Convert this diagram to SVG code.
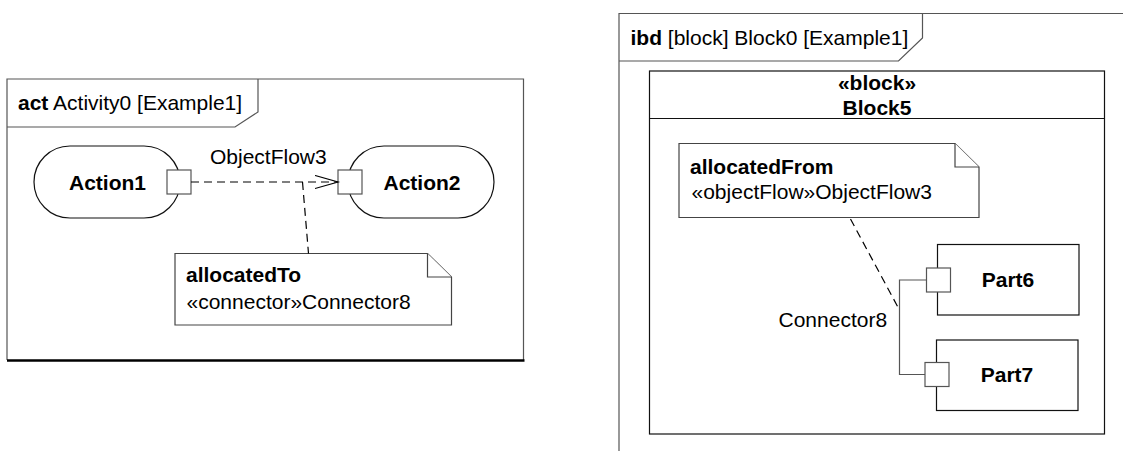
<svg xmlns="http://www.w3.org/2000/svg" width="1123" height="451" viewBox="0 0 1123 451">
<defs>
<style>
text{font-family:"Liberation Sans",Arial,Helvetica,sans-serif;font-size:21px;fill:#000}
.b{font-weight:bold}
.frame{fill:none;stroke:#555;stroke-width:1.2}
.shape{fill:#fff;stroke:#111;stroke-width:1.2}
.note{fill:#fff;stroke:#444;stroke-width:1.2}
.pin{fill:#fff;stroke:#555;stroke-width:1.2}
.dash{fill:none;stroke:#000;stroke-width:1.2;stroke-dasharray:8 5}
.conn{fill:none;stroke:#555;stroke-width:1.2}
</style>
<marker id="open" markerWidth="26" markerHeight="16" refX="23" refY="7" orient="auto" markerUnits="userSpaceOnUse">
<path d="M0,0.5 L23,7 L0,13.5" fill="none" stroke="#000" stroke-width="1.2"/>
</marker>
</defs>
<rect width="1123" height="451" fill="#fff"/>

<g id="frame-act">
<path class="frame" d="M7,360 V79 H523.5 V360"/>
<path class="frame" d="M258,79 V112 L235,127 H7"/>
<line x1="7" y1="360.5" x2="524.5" y2="360.5" stroke="#000" stroke-width="2.6"/>
<text x="18" y="110"><tspan class="b">act</tspan> Activity0 [Example1]</text>
</g>

<g id="action1">
<rect class="shape" x="34" y="146" width="146" height="72" rx="36" ry="36"/>
<text class="b" x="69" y="189.5">Action1</text>
<rect class="pin" x="167" y="170" width="24" height="24"/>
</g>

<g id="action2">
<rect class="shape" x="348" y="146" width="146" height="72" rx="36" ry="36"/>
<text class="b" x="383.5" y="189.5">Action2</text>
<rect class="pin" x="338" y="170" width="24" height="24"/>
</g>

<g id="note-allocatedTo">
<path class="note" d="M175,253.5 H427.5 L451.5,277 V325 H175 Z"/>
<path class="note" d="M427.5,253.5 V277 H451.5"/>
<text class="b" x="186" y="282">allocatedTo</text>
<text x="186.5" y="308.5">«connector»Connector8</text>
</g>

<g id="frame-ibd">
<path class="frame" d="M619,451 V13.5 H1123"/>
<path class="frame" d="M922.5,13.5 V38 L898.5,61 H619"/>
<text x="630.5" y="44.5"><tspan class="b">ibd</tspan> [block] Block0 [Example1]</text>
</g>

<g id="block5">
<rect class="shape" x="649.5" y="71" width="455" height="363"/>
<line x1="649.5" y1="118.5" x2="1104.5" y2="118.5" stroke="#111" stroke-width="1.2"/>
<text class="b" x="877" y="89.5" text-anchor="middle">«block»</text>
<text class="b" x="877" y="114.5" text-anchor="middle">Block5</text>
</g>

<g id="note-allocatedFrom">
<path class="note" d="M679,143.5 H955 L979,167 V217.5 H679 Z"/>
<path class="note" d="M955,143.5 V167 H979"/>
<text class="b" x="690" y="173.5">allocatedFrom</text>
<text x="691.5" y="199">«objectFlow»ObjectFlow3</text>
</g>

<g id="part6">
<rect class="shape" x="937.5" y="244.5" width="141.5" height="70.5"/>
<text class="b" x="1008" y="287" text-anchor="middle">Part6</text>
<rect class="pin" x="926.5" y="268" width="24" height="24"/>
</g>

<g id="part7">
<rect class="shape" x="936.5" y="340" width="141.5" height="70.5"/>
<text class="b" x="1007" y="381.5" text-anchor="middle">Part7</text>
<rect class="pin" x="925" y="362.5" width="24" height="24"/>
</g>

<g id="connectors">
<line class="dash" x1="191" y1="182" x2="338" y2="182" marker-end="url(#open)"/>
<text x="210" y="163.5">ObjectFlow3</text>
<line class="dash" x1="302.5" y1="182" x2="308.5" y2="253.5" stroke-dasharray="9 5"/>
<path class="conn" d="M926.5,280 H899.5 V374.5 H925"/>
<text x="778.5" y="327">Connector8</text>
<line class="dash" x1="850.5" y1="219" x2="899.5" y2="310"/>
</g>
</svg>
